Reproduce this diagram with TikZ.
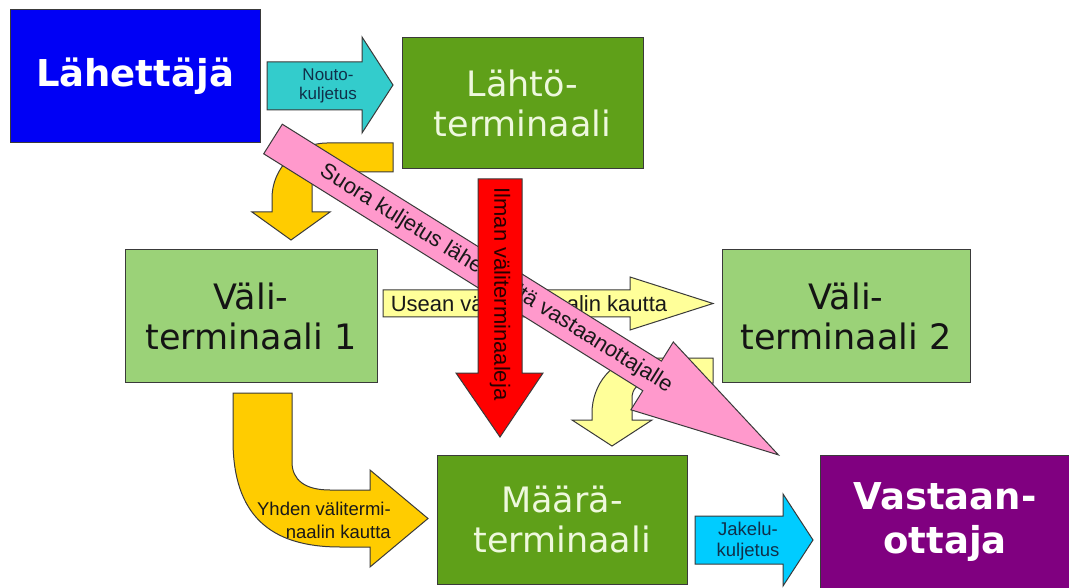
\documentclass[tikz,border=0pt]{standalone}
\usepackage{fontspec}
\newfontfamily\boxfont{DejaVu Sans}
\newfontfamily\labfont{Liberation Sans}
\definecolor{cblue}{HTML}{0000F5}
\definecolor{cdgreen}{HTML}{5FA019}
\definecolor{clgreen}{HTML}{9BD278}
\definecolor{cpurple}{HTML}{800080}
\definecolor{corange}{HTML}{FFCC00}
\definecolor{clyellow}{HTML}{FFFF99}
\definecolor{cpink}{HTML}{FF99CC}
\definecolor{cred}{HTML}{FF0000}
\definecolor{cteal}{HTML}{33CCCC}
\definecolor{csky}{HTML}{00CCFF}
\definecolor{ccream}{HTML}{EEF8DD}
\definecolor{cline}{HTML}{3A3A3A}
\definecolor{cnavy}{HTML}{10304A}
\begin{document}
\begin{tikzpicture}[x=1pt,y=-1pt,line join=miter]
\tikzset{
  shapeline/.style={draw=cline,line width=1pt},
  box/.style={shapeline,rectangle,inner sep=0pt,outer sep=0pt,align=center},
  lightbox/.style={box,fill=clgreen,text=black!92,font=\boxfont\fontsize{35}{40}\selectfont},
  darkbox/.style={box,fill=cdgreen,text=ccream,font=\boxfont\fontsize{35}{40}\selectfont},
  boldbox/.style={box,text=white,font=\boxfont\bfseries\fontsize{37}{44}\selectfont},
  lab/.style={inner sep=0pt,align=center,text=black!90},
}
\fill[white] (0,0) rectangle (1069,588);
\useasboundingbox (0,0) rectangle (1069,588);

% boxes
\node[boldbox,fill=cblue,minimum width=250pt,minimum height=133pt] (lah) at (135,76.5) {Lähettäjä};
\node[darkbox,minimum width=241pt,minimum height=131pt] (lahto) at (522.5,103.5) {Lähtö-\\terminaali};
\node[lightbox,minimum width=252pt,minimum height=132pt] (vali1) at (251,316) {Väli-\\terminaali 1};
\node[lightbox,minimum width=248pt,minimum height=132pt] (vali2) at (846,316) {Väli-\\terminaali 2};
\node[darkbox,minimum width=250pt,minimum height=129pt] (maara) at (562,519.5) {Määrä-\\terminaali};
\node[boldbox,fill=cpurple,minimum width=250pt,minimum height=134pt] (vast) at (945,522) {Vastaan-\\ottaja};

% Noutokuljetus
\draw[shapeline,fill=cteal] (267,62) -- (362,62) -- (362,37) -- (393,85) -- (362,133) -- (362,110) -- (267,110) -- cycle;
\node[lab,text=cnavy,font=\labfont\fontsize{17}{19}\selectfont] (nouto) at (328,86) {Nouto-\\kuljetus};

% Jakelukuljetus
\draw[shapeline,fill=csky] (695,516) -- (783,516) -- (783,494) -- (813,540) -- (783,586) -- (783,564) -- (695,564) -- cycle;
\node[lab,text=cnavy,font=\labfont\fontsize{18.5}{21}\selectfont] (jakelu) at (748,541) {Jakelu-\\kuljetus};

% orange bent arrow (Lahto -> Vali 1)
\draw[shapeline,fill=corange] (393,143) -- (327,143) .. controls (297,143) and (272,168) .. (272,198) -- (272,212) -- (252,212) -- (291,240) -- (330,212) -- (312,212) -- (312,187) .. controls (312,178) and (318,172) .. (327,172) -- (393,172) -- cycle;

% orange bent arrow (Vali 1 -> Maara)
\draw[shapeline,fill=corange] (233,393) -- (292,393) -- (292,462) .. controls (292,480) and (305,490) .. (330,490) -- (370,490) -- (370,470) -- (428,518.5) -- (370,567) -- (370,547) -- (340,547) .. controls (270,547) and (233,515) .. (233,440) -- cycle;
\node[lab,anchor=east,font=\labfont\fontsize{18.5}{23}\selectfont,align=right] (yhden) at (391,520) {Yhden välitermi-\\naalin kautta};

% light yellow bent arrow (Vali 2 -> Maara)
\draw[shapeline,fill=clyellow] (713,358) -- (642,358) .. controls (612,358) and (592,385) .. (592,413) -- (592,420) -- (572,420) -- (612,446) -- (652,420) -- (632,420) -- (632,398) .. controls (632,389) and (638,383) .. (647,383) -- (713,383) -- cycle;

% Usean valiterminaalin kautta
\draw[shapeline,fill=clyellow] (383,290) -- (630,290) -- (630,277) -- (713,303.5) -- (630,330) -- (630,317) -- (383,317) -- cycle;
\node[lab,font=\labfont\fontsize{22}{24}\selectfont] (usean) at (529,304) {Usean välitermi­naalin kautta};

% pink diagonal arrow
\draw[shapeline,fill=cpink] (282.3,124.2) -- (661.4,361.1) -- (673.3,342.0) -- (778.4,454.9) -- (630.9,409.8) -- (642.8,390.7) -- (263.7,153.8) -- cycle;
\node[lab,rotate=-32,font=\labfont\fontsize{22}{24}\selectfont] (suora) at (496,279) {Suora kuljetus lähettäjältä vastaanottajalle};

% red arrow
\draw[shapeline,fill=cred] (478,179) -- (522,179) -- (522,373) -- (543,373) -- (500,437) -- (456,373) -- (478,373) -- cycle;
\node[lab,rotate=-90,text=black!85!red,font=\labfont\fontsize{22}{24}\selectfont] (ilman) at (500,294) {Ilman välitermi­naaleja};
\end{tikzpicture}
\end{document}
